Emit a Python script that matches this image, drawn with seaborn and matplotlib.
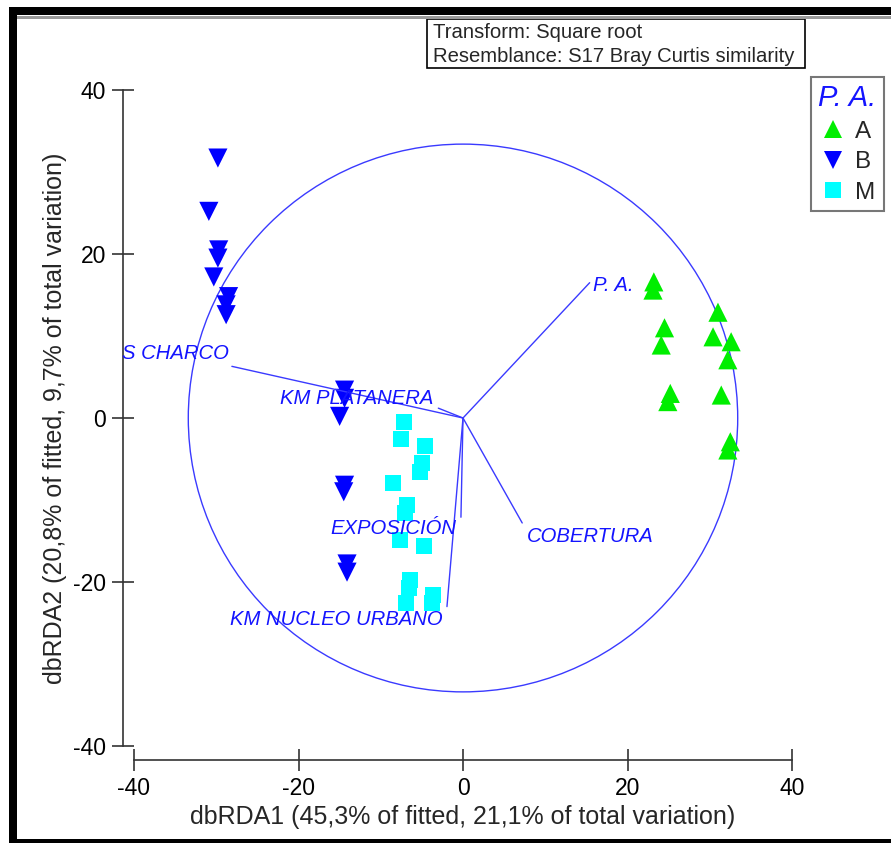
import matplotlib
matplotlib.use("Agg")
import matplotlib.pyplot as plt
from matplotlib.patches import Rectangle, Circle
from matplotlib.lines import Line2D
import seaborn as sns
import pandas as pd

# ---- data ----
A_x = [23.2, 23.1, 31.0, 24.5, 24.1, 30.4, 32.6, 32.2, 25.2, 24.9, 31.4, 32.5, 32.2]
A_y = [16.6, 15.6, 12.9, 11.0, 8.9, 9.9, 9.3, 7.1, 3.0, 2.0, 2.8, -2.9, -3.9]
B_x = [-29.8, -30.9, -29.7, -29.8, -30.3, -28.5, -28.8, -28.8, -14.4, -14.4, -15.0,
       -14.4, -14.5, -14.1, -14.1]
B_y = [31.7, 25.2, 20.5, 19.5, 17.2, 14.8, 13.8, 12.6, 3.4, 2.4, 0.2,
       -8.2, -9.0, -17.8, -18.8]
M_x = [-7.2, -7.5, -4.6, -5.0, -5.2, -8.5, -6.8, -7.1, -7.7, -4.7, -6.4, -6.6, -3.6, -6.9, -3.8]
M_y = [-0.5, -2.6, -3.4, -5.5, -6.6, -7.9, -10.6, -11.6, -14.9, -15.6, -19.8, -20.7,
       -21.6, -22.6, -22.6]

groups = ["A", "B", "M"]
vec_names = ["P. A.", "S CHARCO", "KM PLATANERA", "EXPOSICIÓN", "KM NUCLEO URBANO", "COBERTURA"]
vec_x = [15.4, -28.1, -3.0, -0.25, -1.95, 7.2]
vec_y = [16.5, 6.3, 1.2, -12.1, -23.0, -12.8]
circle_r = 33.4

xticks = [-40, -20, 0, 20, 40]
yticks = [-40, -20, 0, 20, 40]

df = pd.DataFrame({
    "x": A_x + B_x + M_x,
    "y": A_y + B_y + M_y,
    "g": ["A"] * len(A_x) + ["B"] * len(B_x) + ["M"] * len(M_x),
})

palette = {"A": "#00ee00", "B": "#0000ff", "M": "#00ffff"}
markers = {"A": "^", "B": "v", "M": "s"}
sizes = {"A": 190, "B": 190, "M": 135}

sns.set_style("white")
plt.rcParams["font.family"] = ["Liberation Sans", "DejaVu Sans"]

W, H = 891, 843
fig = plt.figure(figsize=(W / 100, H / 100), dpi=100)

# axes placement in pixels
ax_l, ax_r, ax_b, ax_t = 123, 805, 760, 20
ax = fig.add_axes([ax_l / W, 1 - ax_b / H, (ax_r - ax_l) / W, (ax_b - ax_t) / H])
ax.set_facecolor("none")

x0px, y0px, sx, sy = 463, 418, 8.225, 8.2
ax.set_xlim((ax_l - x0px) / sx, (ax_r - x0px) / sx)
ax.set_ylim((y0px - ax_b) / sy, (y0px - ax_t) / sy)

blue_line = "#3a3aff"
ax.add_patch(Circle((0, 0), circle_r, fill=False, edgecolor=blue_line, lw=1.0, zorder=1))

sns.scatterplot(data=df, x="x", y="y", hue="g", style="g", size="g",
                palette=palette, markers=markers, sizes=sizes,
                linewidth=0, legend=False, ax=ax, zorder=3)

for name, vx, vy in zip(vec_names, vec_x, vec_y):
    ax.plot([0, vx], [0, vy], color=blue_line, lw=1.0, zorder=4)

lab_kw = dict(color="#1414ff", fontsize=14.6, style="italic", va="center", zorder=5, clip_on=False)
ax.text(15.8, 16.2, "P. A.", ha="left", **lab_kw)
ax.text(-41.4, 7.9, "S CHARCO", ha="left", **lab_kw)
ax.text(-22.3, 2.4, "KM PLATANERA", ha="left", **lab_kw)
ax.text(-0.8, -13.5, "EXPOSICIÓN", ha="right", **lab_kw)
ax.text(-2.5, -24.6, "KM NUCLEO URBANO", ha="right", **lab_kw)
ax.text(7.8, -14.5, "COBERTURA", ha="left", **lab_kw)

# axes styling
for s in ["top", "right"]:
    ax.spines[s].set_visible(False)
for s in ["left", "bottom"]:
    ax.spines[s].set_color("#333333")
    ax.spines[s].set_linewidth(1.2)
    ax.spines[s].set_bounds(-40, 40)
ax.set_xticks(xticks)
ax.set_yticks(yticks)
ax.set_xticklabels([str(t) for t in xticks])
ax.set_yticklabels([str(t) for t in yticks])
ax.tick_params(axis="both", direction="inout", length=16, width=1.2, color="#333333",
               labelsize=16.5, labelcolor="black", pad=4, bottom=True, left=True)

ax.set_xlabel("dbRDA1 (45,3% of fitted, 21,1% of total variation)", fontsize=18)
ax.set_ylabel("dbRDA2 (20,8% of fitted, 9,7% of total variation)", fontsize=18)
ax.xaxis.set_label_coords(463 / W, 1 - 817 / H, transform=fig.transFigure)
ax.yaxis.set_label_coords(55 / W, 1 - 418 / H, transform=fig.transFigure)
ax.xaxis.label.set_va("center")
ax.yaxis.label.set_va("center")
ax.yaxis.label.set_rotation_mode("default")

# transform / resemblance box
fig.add_artist(Rectangle((427 / W, 1 - 68 / H), (805 - 427) / W, (68 - 19) / H,
                         transform=fig.transFigure, fill=False, edgecolor="black", lw=1.2))
fig.text(433 / W, 1 - 32 / H, "Transform: Square root", fontsize=14.6, va="center", ha="left")
fig.text(433 / W, 1 - 56 / H, "Resemblance: S17 Bray Curtis similarity", fontsize=14.6,
         va="center", ha="left")

# legend
handles = [Line2D([], [], ls="none", marker=markers[g], color=palette[g],
                  markersize=13 if g != "M" else 11.5, markeredgewidth=0) for g in groups]
leg = fig.legend(handles, groups, loc="upper left",
                 bbox_to_anchor=(811 / W, 1 - 77 / H), bbox_transform=fig.transFigure,
                 title="P. A.", fontsize=17.5, frameon=True, fancybox=False,
                 borderpad=0.3, handletextpad=0.3, handlelength=1.2, labelspacing=0.35,
                 borderaxespad=0)
leg.get_title().set_color("#1414ff")
leg.get_title().set_fontstyle("italic")
leg.get_title().set_fontsize(21)
leg._legend_box.align = "left"
leg.get_frame().set_edgecolor("#555555")
leg.get_frame().set_linewidth(1.5)

# outer frame
def frect(x, y, w, h, c):
    fig.add_artist(Rectangle((x / W, 1 - (y + h) / H), w / W, h / H,
                             transform=fig.transFigure, color=c, lw=0, zorder=10))

frect(9, 7, 8, H - 7, "black")
frect(9, 7, W - 9, 8, "black")
frect(17, 16, W - 17, 3, "#999999")
frect(9, 839, W - 9, 4, "black")

fig.savefig("out.png", dpi=100)
